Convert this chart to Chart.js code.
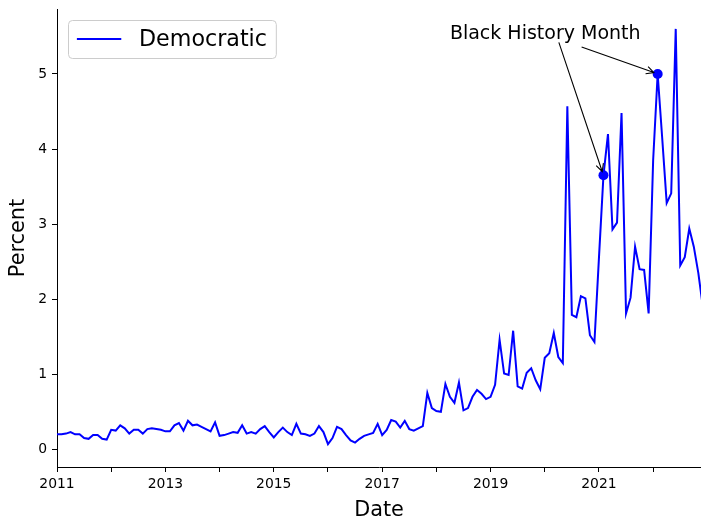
<!DOCTYPE html>
<html>
<head>
<meta charset="utf-8">
<script src="https://cdn.jsdelivr.net/npm/chart.js@4.4.1/dist/chart.umd.min.js"></script>
<style>
  html, body { margin: 0; padding: 0; background: #fff; }
</style>
</head>
<body>
<canvas id="demChart" width="701" height="519"></canvas>
<script>
/* Monthly share (%) of Democratic posts, Jan 2011 - Dec 2022 */
const firstYear = 2011;
const pct2011 = [0.20, 0.20, 0.21, 0.23, 0.20, 0.20, 0.15, 0.14, 0.19, 0.19, 0.14, 0.13];
const pct2012 = [0.26, 0.25, 0.32, 0.28, 0.21, 0.26, 0.26, 0.21, 0.27, 0.28, 0.27, 0.26];
const pct2013 = [0.24, 0.24, 0.32, 0.35, 0.25, 0.38, 0.32, 0.33, 0.30, 0.27, 0.24, 0.36];
const pct2014 = [0.18, 0.19, 0.21, 0.23, 0.22, 0.32, 0.21, 0.23, 0.21, 0.27, 0.31, 0.23];
const pct2015 = [0.16, 0.23, 0.29, 0.23, 0.19, 0.34, 0.21, 0.20, 0.18, 0.21, 0.31, 0.23];
const pct2016 = [0.07, 0.15, 0.30, 0.27, 0.19, 0.12, 0.09, 0.14, 0.18, 0.20, 0.22, 0.34];
const pct2017 = [0.19, 0.26, 0.39, 0.37, 0.29, 0.38, 0.27, 0.25, 0.28, 0.31, 0.75, 0.55];
const pct2018 = [0.51, 0.50, 0.87, 0.70, 0.62, 0.89, 0.52, 0.55, 0.70, 0.79, 0.74, 0.67];
const pct2019 = [0.70, 0.86, 1.46, 1.01, 0.99, 1.58, 0.84, 0.81, 1.02, 1.08, 0.92, 0.80];
const pct2020 = [1.22, 1.28, 1.55, 1.23, 1.15, 4.57, 1.79, 1.76, 2.04, 2.01, 1.52, 1.43];
const pct2021 = [2.55, 3.65, 4.20, 2.93, 3.02, 4.48, 1.81, 2.02, 2.70, 2.40, 2.39, 1.81];
const pct2022 = [3.85, 5.00, 4.15, 3.28, 3.41, 5.60, 2.45, 2.56, 2.94, 2.70, 2.35, 1.90];

// Black History Month points that get the arrows
const bhmMonths = ['2021-02', '2022-02'];
const noteText = 'Black History Month';
const noteAt = [2018.25, 5.47];                       // text baseline start (year, %)
const arrowTails = [[2020.26, 5.42], [2020.68, 5.36]]; // arrow starts under the text

// axis ticks
const yearTicks = [2011, 2012, 2013, 2014, 2015, 2016, 2017, 2018, 2019, 2020, 2021, 2022];
const yearLabels = ['2011', '2013', '2015', '2017', '2019', '2021'];
const percentTicks = [0, 1, 2, 3, 4, 5];

const democratic = [].concat(pct2011, pct2012, pct2013, pct2014, pct2015, pct2016,
                             pct2017, pct2018, pct2019, pct2020, pct2021, pct2022);
const toYear = (i) => firstYear + i / 12;
const demPoints = democratic.map((v, i) => ({ x: toYear(i), y: v }));
const bhmPoints = bhmMonths.map(s => {
    const [yr, mo] = s.split('-').map(Number);
    const i = (yr - firstYear) * 12 + (mo - 1);
    return { x: toYear(i), y: democratic[i] };
});

const FONT = '"DejaVu Sans", sans-serif';
Chart.defaults.font.family = FONT;
Chart.defaults.color = '#000';

/**
 * matplotlib-style legend box in the upper left of the plot area
 */
const boxLegend = {
    id: 'boxLegend',
    afterDraw(chart) {
        const { ctx, chartArea } = chart;
        const ds = chart.data.datasets[0];
        const fs = 22.2;
        const pad = 0.4 * fs;
        const left = chartArea.left + 11;
        const top = chartArea.top + 11;

        ctx.save();
        ctx.font = `${fs}px ${FONT}`;
        const textW = ctx.measureText(ds.label).width;
        const w = pad + 2.0 * fs + 0.8 * fs + textW + pad;
        const h = 38;

        ctx.beginPath();
        ctx.roundRect(left + 0.5, top + 0.5, w, h, 4);
        ctx.fillStyle = 'rgba(255,255,255,0.8)';
        ctx.fill();
        ctx.strokeStyle = '#cccccc';
        ctx.lineWidth = 1;
        ctx.stroke();

        const cy = top + h / 2;
        ctx.beginPath();
        ctx.moveTo(left + pad, cy);
        ctx.lineTo(left + pad + 2.0 * fs, cy);
        ctx.strokeStyle = ds.borderColor;
        ctx.lineWidth = 2;
        ctx.stroke();

        ctx.fillStyle = '#000';
        ctx.textBaseline = 'middle';
        ctx.textAlign = 'left';
        ctx.fillText(ds.label, left + pad + 2.8 * fs, cy + 1);
        ctx.restore();
    }
};

/**
 * "Black History Month" note with arrows to the February points
 */
const bhmNote = {
    id: 'bhmNote',
    afterDatasetsDraw(chart) {
        const { ctx, scales: { x, y } } = chart;
        ctx.save();
        ctx.font = `19px ${FONT}`;
        ctx.fillStyle = '#000';
        ctx.textAlign = 'left';
        ctx.textBaseline = 'alphabetic';
        ctx.fillText(noteText, x.getPixelForValue(noteAt[0]), y.getPixelForValue(noteAt[1]));

        ctx.strokeStyle = '#000';
        ctx.lineWidth = 1.1;
        bhmPoints.forEach((p, i) => {
            const tx = x.getPixelForValue(arrowTails[i][0]);
            const ty = y.getPixelForValue(arrowTails[i][1]);
            const px = x.getPixelForValue(p.x);
            const py = y.getPixelForValue(p.y);
            const ang = Math.atan2(py - ty, px - tx);
            const hx = px - 4 * Math.cos(ang);
            const hy = py - 4 * Math.sin(ang);

            ctx.beginPath();
            ctx.moveTo(tx, ty);
            ctx.lineTo(hx, hy);
            // open "->" head
            const hl = 7.5, hw = 3.8;
            const bx = hx - hl * Math.cos(ang), by = hy - hl * Math.sin(ang);
            ctx.moveTo(bx + hw * Math.sin(ang), by - hw * Math.cos(ang));
            ctx.lineTo(hx, hy);
            ctx.lineTo(bx - hw * Math.sin(ang), by + hw * Math.cos(ang));
            ctx.stroke();
        });
        ctx.restore();
    }
};

const axisGrid = { display: true, drawOnChartArea: false, drawTicks: true, tickLength: 5, color: '#000', lineWidth: 1 };
const axisBorder = { display: true, color: '#000', width: 1 };

new Chart(document.getElementById('demChart').getContext('2d'), {
    type: 'line',
    data: {
        datasets: [{
            label: 'Democratic',
            data: demPoints,
            borderColor: '#0000ff',
            borderWidth: 2,
            pointRadius: 0,
            tension: 0,
            fill: false
        }, {
            label: noteText,
            data: bhmPoints,
            showLine: false,
            pointRadius: 5,
            pointBackgroundColor: '#0000ff',
            pointBorderWidth: 0,
            borderColor: '#0000ff'
        }]
    },
    options: {
        responsive: false,
        animation: false,
        devicePixelRatio: 1,
        layout: { autoPadding: false, padding: { top: 9, right: 0, bottom: 0, left: 0 } },
        scales: {
            x: {
                type: 'linear',
                min: 2011,
                max: 2022.883,
                afterBuildTicks: (s) => { s.ticks = yearTicks.map(v => ({ value: v })); },
                afterFit: (s) => { s.height = 52; s.paddingLeft = 0; s.paddingRight = 0; },
                ticks: {
                    autoSkip: false,
                    maxRotation: 0,
                    padding: 4,
                    font: { size: 13.9 },
                    color: '#000',
                    callback: (v) => yearLabels.includes(String(v)) ? String(v) : ''
                },
                grid: axisGrid,
                border: axisBorder,
                title: { display: true, text: 'Date', font: { size: 20.8, lineHeight: 0.8 }, color: '#000', padding: 0 }
            },
            y: {
                type: 'linear',
                min: -0.235,
                max: 5.865,
                afterBuildTicks: (s) => { s.ticks = percentTicks.map(v => ({ value: v })); },
                afterFit: (s) => { s.width = 57; s.paddingTop = 0; s.paddingBottom = 0; },
                ticks: { padding: 5, font: { size: 13.9 }, color: '#000' },
                grid: axisGrid,
                border: axisBorder,
                title: { display: true, text: 'Percent', font: { size: 20.8, lineHeight: 1.2 }, color: '#000', padding: { top: 6, bottom: 0 } }
            }
        },
        plugins: {
            legend: { display: false },
            tooltip: { enabled: false }
        }
    },
    plugins: [bhmNote, boxLegend]
});
</script>
</body>
</html>
